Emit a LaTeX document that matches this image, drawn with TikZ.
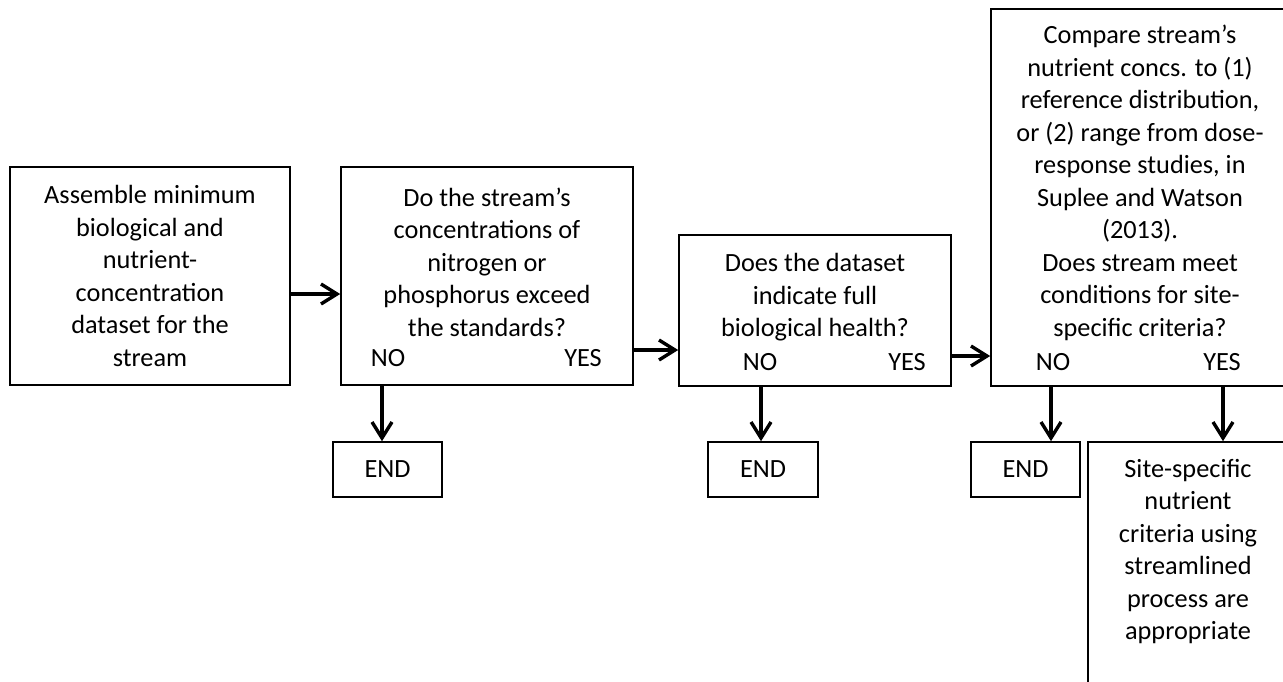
\documentclass[tikz,border=0pt]{standalone}
\usepackage{fontspec}
\setmainfont{Carlito}
\usetikzlibrary{arrows.meta}
\begin{document}
\begin{tikzpicture}[x=1pt,y=-1pt,
  box/.style={draw, line width=1.6pt, inner sep=0pt},
  txt/.style={align=center, font=\fontsize{26.3}{32.5}\selectfont, inner sep=0pt},
  arr/.style={line width=3.4pt, -{Straight Barb[length=16pt,width=20pt]}}]
\useasboundingbox (0,0) rectangle (1283,681);
\clip (0,0) rectangle (1283,681);
\fill[white] (0,0) rectangle (1283,681);
% boxes
\node[box, minimum width=280pt, minimum height=218pt] (b1) at (150,276) {};
\node[box, minimum width=292pt, minimum height=218pt] (b2) at (487,276) {};
\node[box, minimum width=272pt, minimum height=151pt] (b3) at (815,310.5) {};
\node[box, minimum width=298pt, minimum height=377pt] (b4) at (1140,197.5) {};
\node[box, txt, minimum width=109pt, minimum height=55pt] (e1) at (387.5,469.5) {END};
\node[box, txt, minimum width=110pt, minimum height=55pt] (e2) at (763,469.5) {END};
\node[box, txt, minimum width=109pt, minimum height=55pt] (e3) at (1025.5,469.5) {END};
\node[box, minimum width=200pt, minimum height=278pt] (b5) at (1188,581) {};
% texts
\node[txt] (t1) at (150,276) {Assemble minimum\\biological and\\nutrient-\\concentration\\dataset for the\\stream};
\node[txt] (t2) at (487,262) {Do the stream’s\\concentrations of\\nitrogen or\\phosphorus exceed\\the standards?};
\node[txt] (no2) at (388,358) {NO};
\node[txt] (yes2) at (583,358) {YES};
\node[txt] (t3) at (815,297.5) {Does the dataset\\indicate full\\biological health?};
\node[txt] (no3) at (760,362) {NO};
\node[txt] (yes3) at (907,362) {YES};
\node[txt] (t4) at (1140,183) {Compare stream’s\\nutrient concs. to (1)\\reference distribution,\\or (2) range from dose-\\response studies, in\\Suplee and Watson\\(2013).\\Does stream meet\\conditions for site-\\specific criteria?};
\node[txt] (no4) at (1053,362) {NO};
\node[txt] (yes4) at (1222,362) {YES};
\node[txt] (t5) at (1188,551.5) {Site-specific\\nutrient\\criteria using\\streamlined\\process are\\appropriate};
% arrows
\draw[arr] (b1.east |- 0,294) -- (b2.west |- 0,294);
\draw[arr] (b2.east |- 0,350) -- (b3.west |- 0,350);
\draw[arr] (b3.east |- 0,356) -- (b4.west |- 0,356);
\draw[arr] (b2.south -| 382,0) -- (e1.north -| 382,0);
\draw[arr] (b3.south -| 761,0) -- (e2.north -| 761,0);
\draw[arr] (b4.south -| 1051,0) -- (e3.north -| 1051,0);
\draw[arr] (b4.south -| 1223,0) -- (b5.north -| 1223,0);
\end{tikzpicture}
\end{document}
